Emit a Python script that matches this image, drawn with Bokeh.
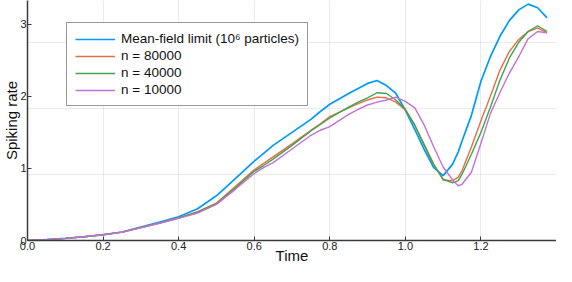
from bokeh.plotting import figure
from bokeh.models import Range1d, FixedTicker, Grid, Legend, LegendItem
from bokeh.embed import file_html
from bokeh.resources import INLINE

# ---- data ----
time = [0.00, 0.05, 0.10, 0.15, 0.20, 0.25, 0.30, 0.35, 0.40, 0.45, 0.50, 0.55,
        0.60, 0.625, 0.65, 0.70, 0.75, 0.775, 0.80, 0.85, 0.875, 0.90, 0.925, 0.95, 0.975,
        1.00, 1.025, 1.05, 1.075, 1.10, 1.125, 1.14, 1.15, 1.175, 1.20, 1.225,
        1.25, 1.275, 1.30, 1.325, 1.35, 1.375]

mean_field = [0.000, 0.012, 0.030, 0.052, 0.080, 0.118, 0.185, 0.255, 0.330, 0.440, 0.620, 0.860,
              1.100, 1.210, 1.320, 1.500, 1.680, 1.790, 1.890, 2.040, 2.110, 2.180, 2.220, 2.150, 2.040,
              1.810, 1.540, 1.260, 1.010, 0.900, 1.060, 1.230, 1.380, 1.740, 2.210, 2.550,
              2.830, 3.050, 3.200, 3.280, 3.230, 3.090]

n80000 = [0.000, 0.012, 0.030, 0.052, 0.080, 0.116, 0.180, 0.245, 0.315, 0.400, 0.520, 0.750,
          0.980, 1.070, 1.160, 1.340, 1.530, 1.620, 1.720, 1.840, 1.900, 1.950, 1.990, 1.980, 1.920,
          1.810, 1.600, 1.330, 1.060, 0.840, 0.830, 0.880, 0.970, 1.300, 1.660, 2.000,
          2.360, 2.620, 2.790, 2.900, 2.950, 2.880]

n40000 = [0.000, 0.012, 0.030, 0.052, 0.080, 0.116, 0.178, 0.242, 0.312, 0.390, 0.510, 0.730,
          0.960, 1.040, 1.130, 1.320, 1.520, 1.610, 1.700, 1.850, 1.920, 1.980, 2.050, 2.040, 1.950,
          1.820, 1.600, 1.320, 1.050, 0.850, 0.800, 0.830, 0.920, 1.200, 1.500, 1.850,
          2.220, 2.530, 2.750, 2.900, 2.980, 2.900]

n10000 = [0.000, 0.012, 0.030, 0.052, 0.080, 0.114, 0.176, 0.240, 0.308, 0.380, 0.500, 0.710,
          0.930, 1.010, 1.080, 1.270, 1.460, 1.530, 1.580, 1.750, 1.820, 1.880, 1.920, 1.950, 1.990,
          1.930, 1.840, 1.600, 1.300, 1.020, 0.840, 0.760, 0.780, 0.950, 1.350, 1.760,
          2.050, 2.320, 2.550, 2.800, 2.900, 2.880]

labels = ["Mean-field limit (10\u2076 particles)", "n = 80000", "n = 40000", "n = 10000"]
colors = ["#009AFA", "#E36F47", "#3EA44E", "#C371D2"]
widths = [1.7, 1.4, 1.4, 1.4]
x_ticks = [0.0, 0.2, 0.4, 0.6, 0.8, 1.0, 1.2]
y_ticks = [0, 1, 2, 3]

FONT = "Liberation Sans"

p = figure(width=556, height=266, output_backend="svg", toolbar_location=None,
           x_range=Range1d(0, 1.40), y_range=Range1d(0, 3.33),
           min_border_left=0, min_border_right=0, min_border_top=0, min_border_bottom=0)
p.outline_line_color = None
p.background_fill_color = "white"

# faint grid (drawn on its own scale as in the reference)
p.extra_y_ranges = {"grid": Range1d(0, 3.33 * 74.5 / 68.3)}
p.xgrid.ticker = FixedTicker(ticks=x_ticks)
p.xgrid.grid_line_color = "#000000"
p.xgrid.grid_line_alpha = 0.08
p.ygrid.visible = False
yg = Grid(dimension=1, ticker=FixedTicker(ticks=y_ticks[1:]), y_range_name="grid",
          grid_line_color="#000000", grid_line_alpha=0.08)
p.add_layout(yg)

renderers = []
for ys, c, w in zip([mean_field, n80000, n40000, n10000], colors, widths):
    r = p.line(time, ys, line_color=c, line_width=w)
    renderers.append(r)

for ax in (p.xaxis[0], p.yaxis[0]):
    ax.axis_line_color = "#3a3a3a"
    ax.axis_line_width = 1.5
    ax.major_tick_line_color = "#3a3a3a"
    ax.major_tick_in = 4
    ax.major_tick_out = 0
    ax.minor_tick_line_color = None
    ax.major_label_text_font = FONT
    ax.major_label_text_font_size = "11px"
    ax.major_label_text_color = "#222222"
    ax.axis_label_text_font = FONT
    ax.axis_label_text_font_size = "15px"
    ax.axis_label_text_font_style = "normal"
    ax.axis_label_text_color = "#111111"
    ax.major_label_standoff = 1

p.xaxis[0].axis_label_standoff = -6
p.yaxis[0].axis_label_standoff = -3
p.xaxis[0].ticker = FixedTicker(ticks=x_ticks)
p.xaxis[0].major_label_overrides = {t: f"{t:.1f}" for t in x_ticks}
p.yaxis[0].ticker = FixedTicker(ticks=y_ticks)
p.xaxis[0].axis_label = "Time"
p.yaxis[0].axis_label = "Spiking rate"

legend = Legend(items=[LegendItem(label=l, renderers=[r]) for l, r in zip(labels, renderers)],
                location=(39, 134), padding=8, spacing=2, label_height=14, glyph_height=14,
                glyph_width=40, label_standoff=6, margin=0,
                label_text_font=FONT, label_text_font_size="13.5px", label_text_color="#111111",
                border_line_color="#333333", border_line_width=1.5,
                background_fill_color="white", background_fill_alpha=1.0)
p.add_layout(legend)

open("out.html", "w").write(file_html(p, INLINE))
